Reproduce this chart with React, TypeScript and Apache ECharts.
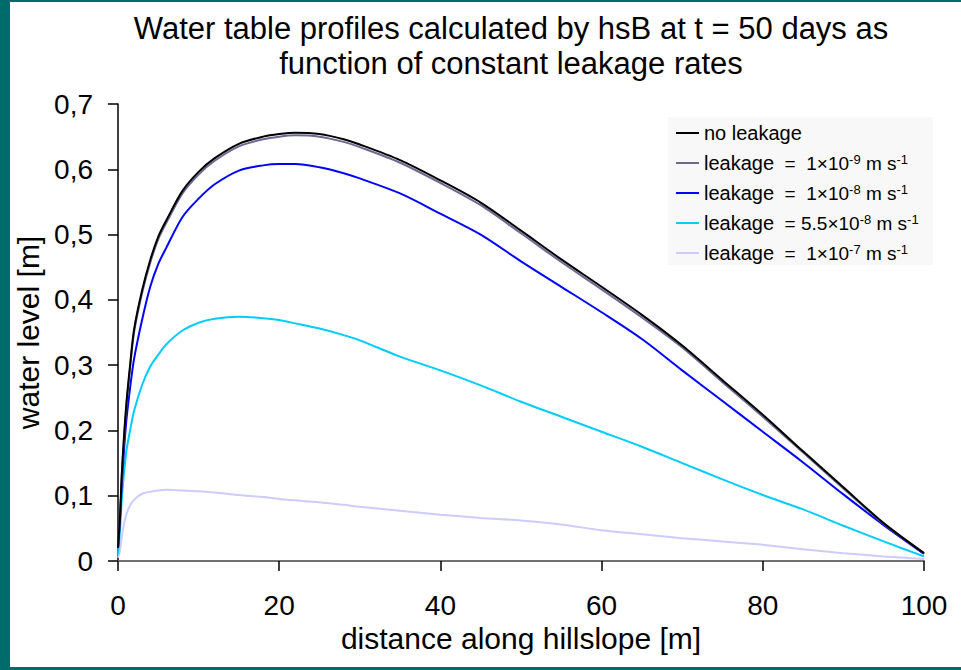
import React, { useEffect, useRef } from "react";
import * as echarts from "echarts";

const distance = [0, 0.25, 0.5, 1, 1.5, 2, 3, 4, 5, 6, 8, 10, 12, 15, 18, 20, 22, 25, 28, 30, 35, 40, 45, 50, 55, 60, 65, 70, 75, 80, 85, 90, 95, 100];

const noLeakage = [0.02, 0.068, 0.14, 0.235, 0.3, 0.355, 0.415, 0.461, 0.497, 0.522, 0.567, 0.596, 0.617, 0.639, 0.65, 0.654, 0.656, 0.654, 0.646, 0.638, 0.614, 0.583, 0.549, 0.506, 0.462, 0.42, 0.377, 0.33, 0.277, 0.224, 0.168, 0.113, 0.058, 0.012];
const leak1e9 = [0.02, 0.066, 0.137, 0.231, 0.296, 0.351, 0.411, 0.457, 0.493, 0.518, 0.563, 0.592, 0.613, 0.635, 0.646, 0.65, 0.652, 0.65, 0.642, 0.634, 0.61, 0.579, 0.545, 0.502, 0.458, 0.416, 0.373, 0.327, 0.274, 0.221, 0.166, 0.111, 0.057, 0.012];
const leak1e8 = [0.02, 0.065, 0.125, 0.21, 0.265, 0.31, 0.37, 0.42, 0.455, 0.48, 0.527, 0.555, 0.577, 0.598, 0.606, 0.608, 0.608, 0.603, 0.594, 0.586, 0.563, 0.532, 0.5, 0.459, 0.42, 0.381, 0.34, 0.292, 0.245, 0.198, 0.151, 0.102, 0.055, 0.011];
const leak55e8 = [0.01, 0.047, 0.1, 0.165, 0.2, 0.23, 0.27, 0.298, 0.316, 0.332, 0.353, 0.365, 0.371, 0.374, 0.372, 0.369, 0.364, 0.356, 0.346, 0.338, 0.313, 0.292, 0.269, 0.244, 0.221, 0.198, 0.175, 0.15, 0.125, 0.101, 0.079, 0.054, 0.03, 0.007];
const leak1e7 = [0.005, 0.016, 0.04, 0.07, 0.085, 0.094, 0.103, 0.106, 0.108, 0.109, 0.108, 0.107, 0.105, 0.101, 0.098, 0.095, 0.093, 0.09, 0.086, 0.083, 0.077, 0.071, 0.066, 0.062, 0.056, 0.047, 0.041, 0.035, 0.03, 0.025, 0.018, 0.012, 0.007, 0.003];

const seriesNames = ["no leakage", "leakage 1e-9", "leakage 1e-8", "leakage 5.5e-8", "leakage 1e-7"];
const legendLabels: Record<string, string> = {
  "no leakage": "{t|no leakage}",
  "leakage 1e-9": "{t|leakage}{n|  =  1×10}{s|-9}{n| m s}{s|-1}",
  "leakage 1e-8": "{t|leakage}{n|  =  1×10}{s|-8}{n| m s}{s|-1}",
  "leakage 5.5e-8": "{t|leakage}{n|  = 5.5×10}{s|-8}{n| m s}{s|-1}",
  "leakage 1e-7": "{t|leakage}{n|  =  1×10}{s|-7}{n| m s}{s|-1}",
};
const seriesValues = [noLeakage, leak1e9, leak1e8, leak55e8, leak1e7];
const seriesColors = ["#000000", "#6a6a92", "#0000ff", "#00ccff", "#ccccff"];
const xTicks = { min: 0, max: 100, interval: 20 };
const yTicks = { min: 0, max: 0.7, interval: 0.1 };

const FONT = "'Liberation Sans', Arial, sans-serif";

export default function App() {
  const ref = useRef<HTMLDivElement>(null);
  useEffect(() => {
    if (!ref.current) return;
    const chart = echarts.init(ref.current, undefined, { renderer: "svg" });
    const series = seriesNames.map((name, i) => ({
      name,
      type: "line",
      data: distance.map((d, k) => [d, seriesValues[i][k]]),
      showSymbol: false,
      smooth: 0.3,
      z: 10 - i,
      lineStyle: { color: seriesColors[i], width: 2 },
      itemStyle: { color: seriesColors[i] },
    }));
    chart.setOption({
      animation: false,
      backgroundColor: "#ffffff",
      textStyle: { fontFamily: FONT },
      title: {
        text: "Water table profiles calculated by hsB at t = 50 days as\nfunction of constant leakage rates",
        left: 506,
        top: 6,
        textAlign: "center",
        textStyle: { fontFamily: FONT, fontSize: 31, fontWeight: "normal", color: "#000", lineHeight: 35 },
      },
      graphic: [
        { type: "rect", left: 0, top: 0, shape: { width: 10, height: 670 }, style: { fill: "#006b6b" }, z: 100 },
        { type: "rect", left: 0, top: 0, shape: { width: 961, height: 2 }, style: { fill: "#006b6b" }, z: 100 },
        { type: "rect", left: 0, top: 667, shape: { width: 961, height: 3 }, style: { fill: "#006b6b" }, z: 100 },
      ],
      legend: {
        data: seriesNames,
        orient: "vertical",
        left: 668,
        top: 117,
        padding: [6, 14, 2, 8],
        itemGap: 9.5,
        itemWidth: 23,
        itemHeight: 2,
        icon: "rect",
        backgroundColor: "#f8f8f8",
        formatter: (name: string) => legendLabels[name],
        textStyle: {
          fontFamily: FONT,
          color: "#000",
          rich: {
            t: { fontFamily: FONT, fontSize: 20, lineHeight: 21, color: "#000" },
            n: { fontFamily: FONT, fontSize: 19, lineHeight: 21, color: "#000" },
            s: { fontFamily: FONT, fontSize: 13, lineHeight: 13, color: "#000", verticalAlign: "top" },
          },
        },
      },
      grid: { left: 118, right: 37, top: 104, bottom: 109, containLabel: false },
      xAxis: {
        type: "value",
        ...xTicks,
        name: "distance along hillslope [m]",
        nameLocation: "middle",
        nameGap: 57,
        nameTextStyle: { fontFamily: FONT, fontSize: 30, color: "#000" },
        axisLine: { lineStyle: { color: "#707070", width: 2 } },
        axisTick: { length: 10, lineStyle: { color: "#000", width: 1.5 } },
        axisLabel: { margin: 30, fontFamily: FONT, fontSize: 28, color: "#000" },
        splitLine: { show: false },
      },
      yAxis: {
        type: "value",
        ...yTicks,
        name: "water level [m]",
        nameLocation: "middle",
        nameGap: 74,
        nameTextStyle: { fontFamily: FONT, fontSize: 30, color: "#000" },
        axisLine: { show: true, lineStyle: { color: "#000", width: 1.5 } },
        axisTick: { show: true, length: 10, lineStyle: { color: "#000", width: 1.5 } },
        axisLabel: {
          margin: 25,
          fontFamily: FONT,
          fontSize: 28,
          color: "#000",
          formatter: (v: number) => (v === 0 ? "0" : v.toFixed(1).replace(".", ",")),
        },
        splitLine: { show: false },
      },
      series,
    });
    return () => chart.dispose();
  }, []);
  return (
    <div
      ref={ref}
      style={{ position: "absolute", left: 0, top: 0, width: 961, height: 670 }}
    />
  );
}
